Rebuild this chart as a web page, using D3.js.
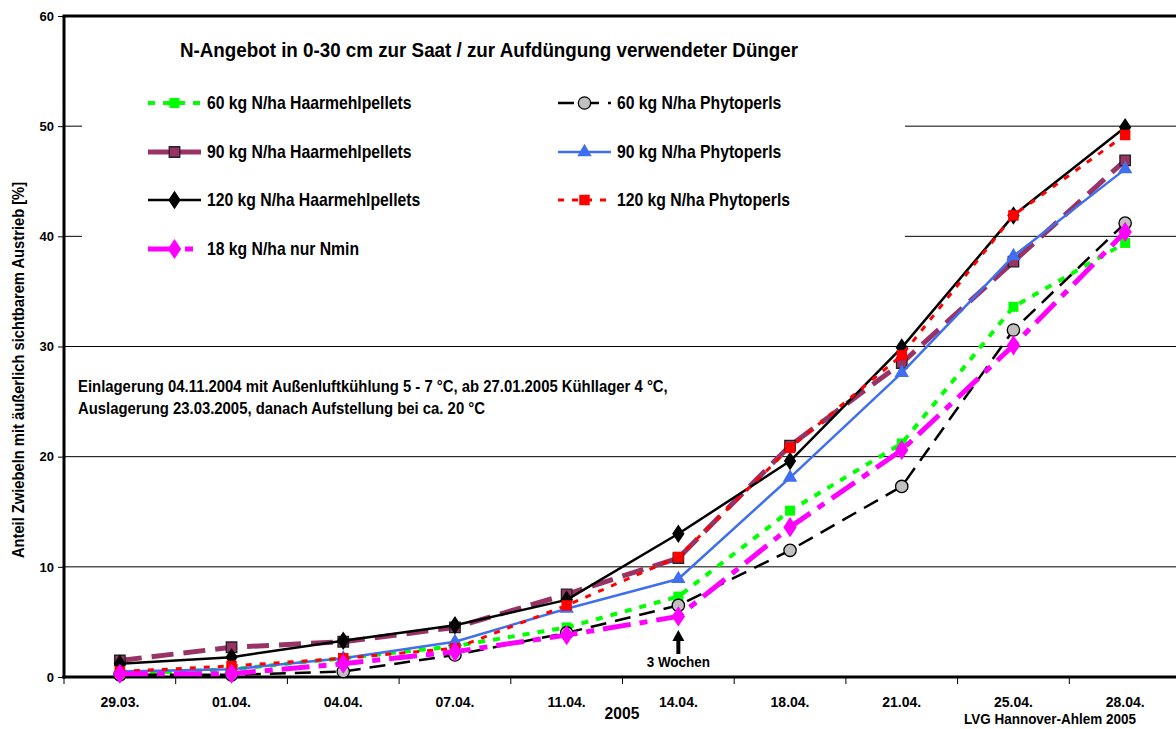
<!DOCTYPE html>
<html><head><meta charset="utf-8">
<script src="https://cdn.jsdelivr.net/npm/d3@7"></script>
<style>
body{margin:0;background:#fff;}
text{font-family:"Liberation Sans",Arial,sans-serif;font-weight:bold;fill:#000;}
</style></head>
<body><svg id="c" width="1176" height="729"></svg>
<script>
const dates = ["29.03.","01.04.","04.04.","07.04.","11.04.","14.04.","18.04.","21.04.","25.04.","28.04."];
const yTicks = [0,10,20,30,40,50,60];
const h60 = [0.3,0.7,1.7,2.8,4.5,7.3,15.1,21.2,33.6,39.4];
const p60 = [0.2,0.2,0.5,2.0,4.0,6.5,11.5,17.3,31.5,41.2];
const h90 = [1.5,2.7,3.2,4.5,7.5,10.8,21.0,28.5,37.7,46.9];
const p90 = [0.5,0.7,1.7,3.2,6.2,8.9,18.1,27.6,38.2,46.1];
const h120 = [1.2,1.8,3.3,4.7,7.0,13.0,19.6,29.9,41.9,49.9];
const p120 = [0.5,1.0,1.7,2.6,6.5,10.9,20.8,29.2,41.9,49.2];
const n18 = [0.3,0.3,1.2,2.3,3.8,5.5,13.6,20.6,30.1,40.4];
const names = ["60 kg N/ha Haarmehlpellets","60 kg N/ha Phytoperls","90 kg N/ha Haarmehlpellets","90 kg N/ha Phytoperls","120 kg N/ha Haarmehlpellets","120 kg N/ha Phytoperls","18 kg N/ha nur Nmin"];

const series = [
 {name:names[0], v:h60, color:"#00FF00", w:4, dash:"7,8", marker:"square", fill:"#00FF00", stroke:"none", size:100, col:0, row:0},
 {name:names[1], v:p60, color:"#000000", w:2.5, dash:"16,9", marker:"circle", fill:"#C0C0C0", stroke:"#000", size:120, col:1, row:0},
 {name:names[2], v:h90, color:"#993366", w:5, dash:"22,10", marker:"square", fill:"#993366", stroke:"#222", size:110, col:0, row:1},
 {name:names[3], v:p90, color:"#3F6FEF", w:2.5, dash:null, marker:"triangle", fill:"#3F6FEF", stroke:"none", size:90, col:1, row:1},
 {name:names[4], v:h120, color:"#000000", w:2.5, dash:null, marker:"diamond", fill:"#000", stroke:"none", size:110, col:0, row:2},
 {name:names[5], v:p120, color:"#FF0000", w:3, dash:"6,8", marker:"square", fill:"#FF0000", stroke:"none", size:110, col:1, row:2},
 {name:names[6], v:n18, color:"#FF00FF", w:5, dash:"28,9,8,9", marker:"diamond", fill:"#FF00FF", stroke:"none", size:130, col:0, row:3}
];

const svg = d3.select("#c");
const L=64, T=16, B=677, R=1181;
const x = d3.scaleBand().domain(dates).range([L,R]).padding(0);
const y = d3.scaleLinear().domain([0,60]).range([B,T]);
const cx = d => x(d)+x.bandwidth()/2;

// condensed text helper
function ctext(px, py, str, size, anchor, sx){
  const g = svg.append("g").attr("transform",`translate(${px},${py}) scale(${sx||0.9},1)`);
  return g.append("text").attr("text-anchor",anchor||"start").style("font-size",size+"px").text(str);
}

// gridlines
svg.append("g").selectAll("line").data(yTicks.filter(t=>t>0&&t<60)).join("line")
 .attr("x1",L).attr("x2",1176).attr("y1",d=>y(d)).attr("y2",d=>y(d))
 .attr("stroke","#000").attr("stroke-width",1);

// legend background box (covers gridlines)
svg.append("rect").attr("x",82).attr("y",T+4).attr("width",823).attr("height",275).attr("fill","#fff");

// annotation
ctext(78, 392, "Einlagerung 04.11.2004  mit Außenluftkühlung 5 - 7 °C, ab 27.01.2005 Kühllager 4 °C,", 16, "start", 0.93);
ctext(78, 414, "Auslagerung 23.03.2005, danach Aufstellung bei ca. 20 °C", 16, "start", 0.93);

// axes
const ya = d3.axisLeft(y).tickValues(yTicks).tickSize(6).tickPadding(4);
const yg = svg.append("g").attr("transform",`translate(${L},0)`).call(ya);
yg.select(".domain").remove();
yg.selectAll("line").attr("stroke","#000");
yg.selectAll("text").style("font-size","13px");

const xa = d3.axisBottom(x).tickSize(0).tickPadding(20);
const xg = svg.append("g").attr("transform",`translate(0,${B})`).call(xa);
xg.select(".domain").remove();
xg.selectAll("text").style("font-size","14px").attr("transform","scale(1,1)");
svg.append("g").selectAll("line").data(dates.map(d=>x(d)).concat([R])).join("line")
 .attr("x1",d=>d).attr("x2",d=>d).attr("y1",B).attr("y2",B+7).attr("stroke","#000").attr("stroke-width",1);

// frame lines
svg.append("line").attr("x1",L).attr("x2",L).attr("y1",T).attr("y2",B+1.5).attr("stroke","#000").attr("stroke-width",3);
svg.append("line").attr("x1",L-1.5).attr("x2",1176).attr("y1",B).attr("y2",B).attr("stroke","#000").attr("stroke-width",3);
svg.append("line").attr("x1",L-1.5).attr("x2",1176).attr("y1",T).attr("y2",T).attr("stroke","#000").attr("stroke-width",3);

// symbols
const symType = {square:d3.symbolSquare, circle:d3.symbolCircle, triangle:d3.symbolTriangle, diamond:d3.symbolDiamond};
function marker(g, s, px, py){
  let sz = s.size;
  if(s.marker==="diamond") sz = s.size*0.9;
  g.append("path").attr("d", d3.symbol().type(symType[s.marker]).size(sz)())
   .attr("transform",`translate(${px},${py})${s.marker==="diamond"?" scale(1.15,1)":""}`)
   .attr("fill",s.fill).attr("stroke",s.stroke).attr("stroke-width",s.stroke==="none"?0:1.3);
}

// lines
const line = d3.line().x((v,i)=>cx(dates[i])).y(v=>y(v));
series.forEach(s=>{
  const g = svg.append("g");
  g.append("path").datum(s.v).attr("d",line).attr("fill","none")
   .attr("stroke",s.color).attr("stroke-width",s.w).attr("stroke-dasharray",s.dash)
   .attr("stroke-linejoin","round");
  s.v.forEach((v,i)=>marker(g,s,cx(dates[i]),y(v)));
});

// title
ctext(489, 57, "N-Angebot in 0-30 cm zur Saat / zur Aufdüngung verwendeter Dünger", 20, "middle", 0.94);

// legend
const legX = [148, 558], legTxt=[207, 617], legY=[103,152,200,249];
series.forEach(s=>{
  const g = svg.append("g");
  const x0 = legX[s.col], yy = legY[s.row], x1 = legTxt[s.col]-6;
  g.append("line").attr("x1",x0).attr("x2",x1).attr("y1",yy).attr("y2",yy)
   .attr("stroke",s.color).attr("stroke-width",s.w).attr("stroke-dasharray",s.dash);
  marker(g,s,(x0+x1)/2,yy);
  ctext(legTxt[s.col], yy+6, s.name, 17.5, "start", 0.9);
});

// y title
svg.append("g").attr("transform","translate(24,370) rotate(-90) scale(0.92,1)")
 .append("text").attr("text-anchor","middle").style("font-size","16px")
 .text("Anteil Zwiebeln mit äußerlich sichtbarem Austrieb [%]");

// 3 Wochen arrow
const ax = cx("14.04.");
svg.append("line").attr("x1",ax).attr("x2",ax).attr("y1",654).attr("y2",640).attr("stroke","#000").attr("stroke-width",4);
svg.append("path").attr("d",`M${ax-6},${641} L${ax+6},${641} L${ax},${630} Z`).attr("fill","#000");
ctext(ax, 667, "3 Wochen", 15, "middle", 0.9);

// footer texts
ctext(622, 719, "2005", 17, "middle", 0.92);
ctext(1050, 724, "LVG Hannover-Ahlem 2005", 15, "middle", 0.9);
</script></body></html>
